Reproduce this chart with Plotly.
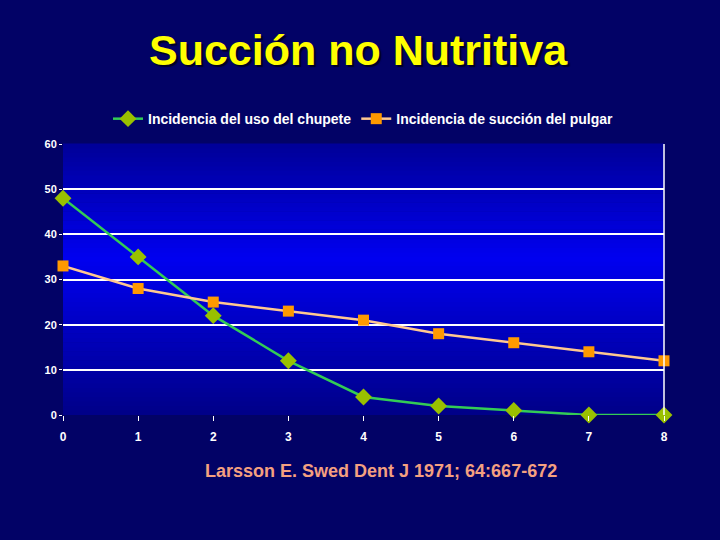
import plotly.graph_objects as go

# Data
edad = [0, 1, 2, 3, 4, 5, 6, 7, 8]
chupete = [48, 35, 22, 12, 4, 2, 1, 0, 0]
pulgar = [33, 28, 25, 23, 21, 18, 16, 14, 12]
y_ticks = [0, 10, 20, 30, 40, 50, 60]
x_ticks = [0, 1, 2, 3, 4, 5, 6, 7, 8]

serie1 = "Incidencia del uso del chupete"
serie2 = "Incidencia de succión del pulgar"
titulo = "Succión no Nutritiva"
cita = "Larsson E. Swed Dent J 1971; 64:667-672"

BG = "#020266"
FONT = "Liberation Sans, Arial, sans-serif"

fig = go.Figure()
fig.add_trace(go.Scatter(
    x=edad, y=chupete, name=serie1, mode="lines+markers",
    line=dict(color="#33cc55", width=2.5),
    marker=dict(symbol="diamond", size=13, color="#99c000"),
    cliponaxis=False,
))
fig.add_trace(go.Scatter(
    x=edad, y=pulgar, name=serie2, mode="lines+markers",
    line=dict(color="#ffc890", width=2.5),
    marker=dict(symbol="square", size=11, color="#ff9900"),
    cliponaxis=False,
))

def lerp(a, b, t):
    return a + (b - a) * t

n = 60
peak = 0.58
shapes = []
for i in range(n):
    f0 = i / n
    f1 = (i + 1) / n
    fm = (f0 + f1) / 2
    if fm <= peak:
        t = fm / peak
        b = lerp(0x88, 0xf0, t)
    else:
        t = (fm - peak) / (1 - peak)
        b = lerp(0xf0, 0x98, t)
    shapes.append(dict(type="rect", xref="x domain", yref="y domain",
                       x0=0, x1=1, y0=f0, y1=f1 + 0.002,
                       fillcolor="rgb(0,0,%d)" % int(b), line=dict(width=0),
                       layer="below"))
shapes.append(dict(type="line", xref="x domain", yref="y domain",
                   x0=1, x1=1, y0=0, y1=1,
                   line=dict(color="white", width=1.5), layer="above"))

fig.update_layout(
    width=720, height=540,
    paper_bgcolor=BG, plot_bgcolor=BG,
    margin=dict(l=63, r=56, t=144, b=125),
    shapes=shapes,
    showlegend=True,
    legend=dict(orientation="h", x=0.5, xanchor="center", y=1.092, yanchor="middle",
                font=dict(family=FONT, size=14, color="white", weight="bold"),
                bgcolor="rgba(0,0,0,0)", itemwidth=30, traceorder="normal"),
    xaxis=dict(range=[0, 8], tickvals=x_ticks, showgrid=False, zeroline=False,
               showline=False, ticks="outside", ticklen=5, tickcolor="white",
               tickfont=dict(family=FONT, size=12, color="white", weight="bold"),
               ticklabelstandoff=6),
    yaxis=dict(range=[0, 60], tickvals=y_ticks, showgrid=True, gridcolor="white",
               gridwidth=1.5, zeroline=False, showline=False, ticks="outside",
               ticklen=3, tickcolor="white",
               tickfont=dict(family=FONT, size=11, color="white", weight="bold")),
    annotations=[
        dict(text=titulo, xref="paper", yref="paper", x=0.492, y=1.347,
             xanchor="center", yanchor="middle", showarrow=False,
             font=dict(family=FONT, size=43, color="#ffff00", weight="bold",
                       shadow="2px 2px 1px #000022")),
        dict(text=cita, xref="paper", yref="paper", x=0.529, y=-0.207,
             xanchor="center", yanchor="middle", showarrow=False,
             font=dict(family=FONT, size=18, color="#f4a080", weight="bold")),
    ],
)

fig.write_html("out.html", config={"displayModeBar": False},
               post_script="document.body.style.margin='0';")
